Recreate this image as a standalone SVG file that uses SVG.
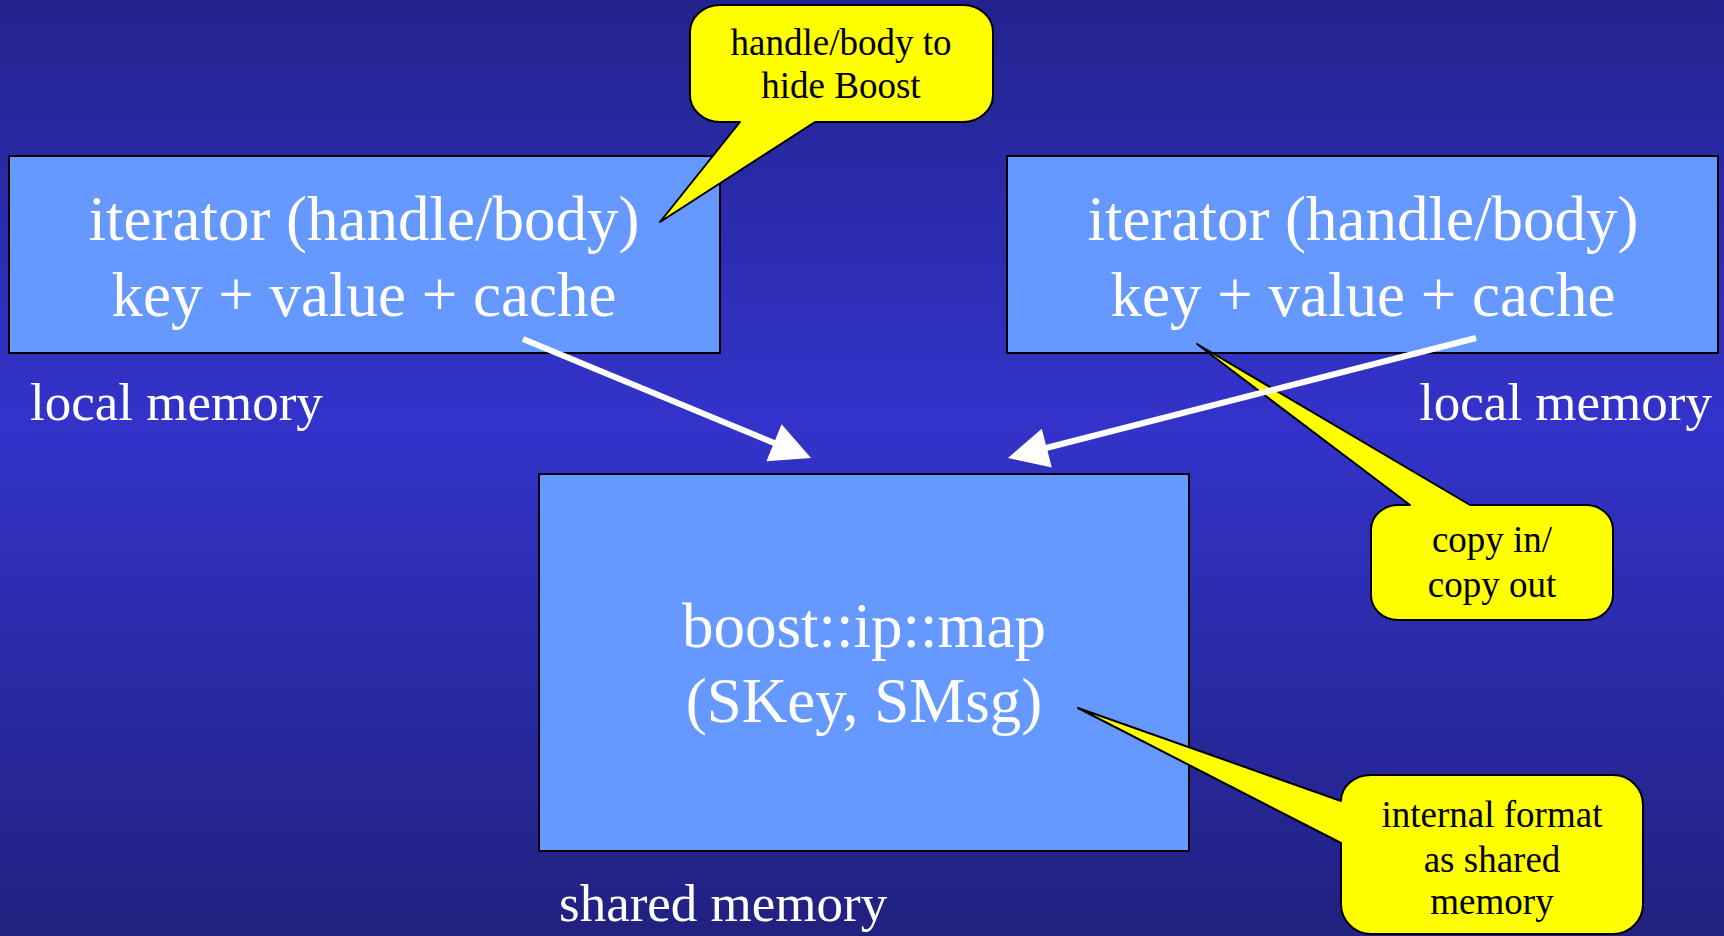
<svg xmlns="http://www.w3.org/2000/svg" width="1724" height="936" viewBox="0 0 1724 936">
<defs>
<linearGradient id="bg" x1="0" y1="0" x2="0" y2="1">
<stop offset="0" stop-color="#23238e"/>
<stop offset="0.45" stop-color="#3333cb"/>
<stop offset="1" stop-color="#212180"/>
</linearGradient>
<style>
.box{fill:#6699ff;stroke:#000;stroke-width:2}
.big{font-family:"Liberation Serif","Times New Roman",serif;font-size:63px;fill:#fff;text-anchor:middle}
.lbl{font-family:"Liberation Serif","Times New Roman",serif;font-size:53px;fill:#fff}
.call{fill:#ffff00;stroke:#000;stroke-width:2;stroke-linejoin:round}
.ct{font-family:"Liberation Serif","Times New Roman",serif;font-size:37px;fill:#000;text-anchor:middle}
.arr{stroke:#fff;stroke-width:6;fill:none}
.head{fill:#fff}
</style>
</defs>
<rect x="0" y="0" width="1724" height="936" fill="url(#bg)"/>

<g id="left-iterator">
<rect class="box" x="9" y="156" width="711" height="197"/>
<text class="big" x="364" y="240">iterator (handle/body)</text>
<text class="big" x="364" y="316">key + value + cache</text>
</g>
<g id="right-iterator">
<rect class="box" x="1007" y="156" width="711" height="197"/>
<text class="big" x="1363" y="240">iterator (handle/body)</text>
<text class="big" x="1363" y="316">key + value + cache</text>
</g>
<g id="shared-map">
<rect class="box" x="539" y="474" width="650" height="377"/>
<text class="big" x="864" y="647">boost::ip::map</text>
<text class="big" x="864" y="722">(SKey, SMsg)</text>
</g>
<g id="label-local-left"><text class="lbl" x="30" y="420">local memory</text></g>
<g id="label-local-right"><text class="lbl" x="1712" y="420" text-anchor="end">local memory</text></g>
<g id="label-shared"><text class="lbl" x="559" y="921">shared memory</text></g>

<g id="callout-handle">
<path class="call" d="M720,5 H963 A30,27 0 0 1 993,32 V95 A30,27 0 0 1 963,122 H815 L660,222 L740,122 H720 A30,27 0 0 1 690,95 V32 A30,27 0 0 1 720,5 Z"/>
<text class="ct" x="841" y="55">handle/body to</text>
<text class="ct" x="841" y="98">hide Boost</text>
</g>
<g id="callout-copy">
<path class="call" d="M1398,505 H1410 L1197,344 L1470,505 H1586 A27,25 0 0 1 1613,530 V595 A27,25 0 0 1 1586,620 H1398 A27,25 0 0 1 1371,595 V530 A27,25 0 0 1 1398,505 Z"/>
<text class="ct" x="1492" y="552">copy in/</text>
<text class="ct" x="1492" y="597">copy out</text>
</g>
<g id="callout-internal">
<path class="call" d="M1371,775 H1613 A30,30 0 0 1 1643,805 V904 A30,30 0 0 1 1613,934 H1371 A30,30 0 0 1 1341,904 V843 L1078,708 L1341,801 A30,26 0 0 1 1371,775 Z"/>
<text class="ct" x="1492" y="827">internal format</text>
<text class="ct" x="1492" y="872">as shared</text>
<text class="ct" x="1492" y="914">memory</text>
</g>

<g id="connectors">
<line class="arr" x1="523" y1="339" x2="779" y2="445"/>
<polygon class="head" points="811,458 781.6,424.3 766.4,461.3"/>
<line class="arr" x1="1476" y1="338" x2="1042" y2="449"/>
<polygon class="head" points="1008,458 1041.8,428.7 1051.8,467.5"/>
</g>
</svg>
